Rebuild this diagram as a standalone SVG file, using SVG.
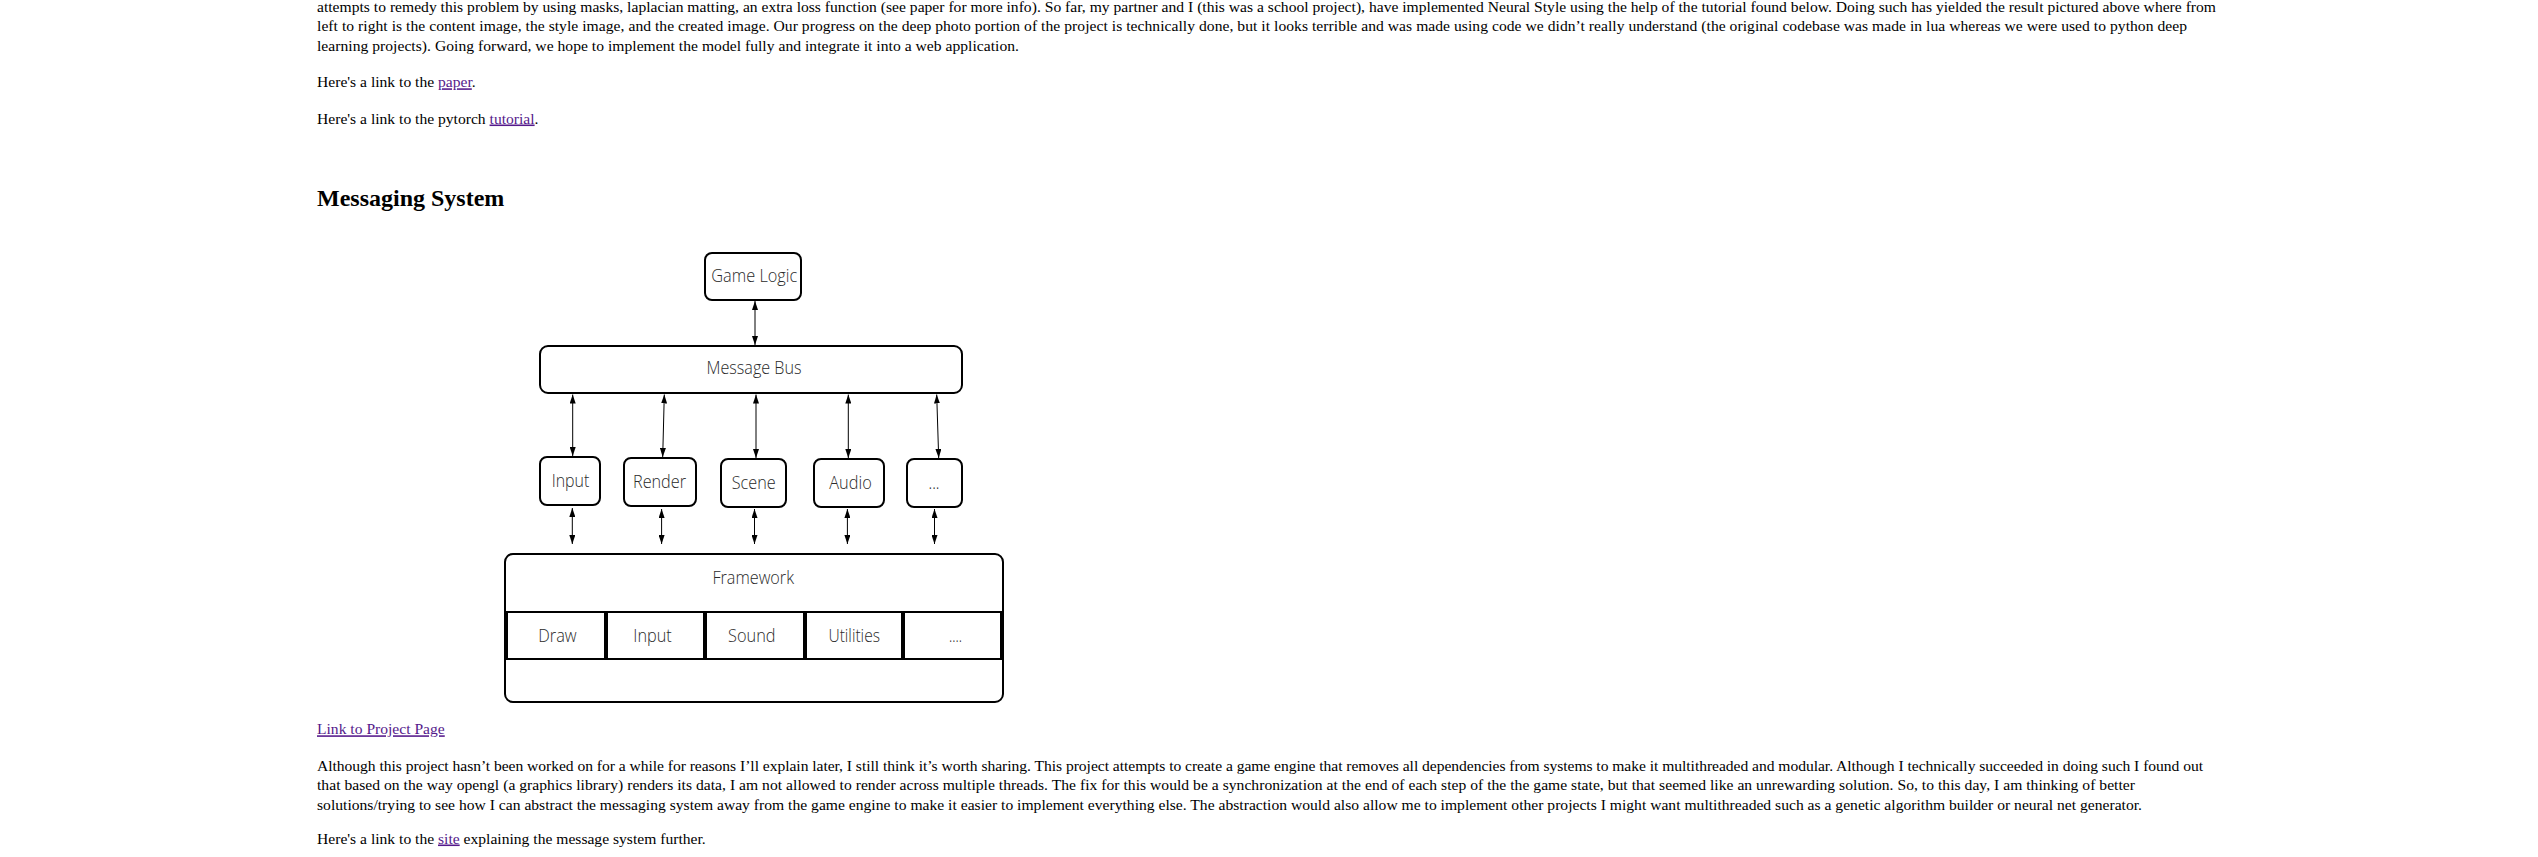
<svg xmlns="http://www.w3.org/2000/svg" width="2538" height="857" viewBox="0 0 2538 857">
<style>
.p{font-family:"Liberation Serif","Times New Roman",serif;font-size:15.6px;fill:#000}
.h{font-family:"Liberation Serif","Times New Roman",serif;font-size:24px;font-weight:bold;fill:#000}
.a{fill:#551a8b;text-decoration:underline}
.box{fill:#fff;stroke:#000;stroke-width:2}
.lbl{font-family:"Open Sans","Noto Sans",sans-serif;font-weight:300;font-size:19px;fill:#2a2a2a;text-anchor:middle}
.con{stroke:#000;stroke-width:1;fill:none;marker-start:url(#ah);marker-end:url(#ah)}
</style>
<defs>
<marker id="ah" markerUnits="userSpaceOnUse" markerWidth="9" markerHeight="6" refX="9" refY="3" orient="auto-start-reverse">
<path d="M0,0 L9,3 L0,6 z" fill="#000"/>
</marker>
</defs>
<rect width="2538" height="857" fill="#fff"/>
<g id="page-text">
<text class="p" x="317" y="12" textLength="1899">attempts to remedy this problem by using masks, laplacian matting, an extra loss function (see paper for more info). So far, my partner and I (this was a school project), have implemented Neural Style using the help of the tutorial found below. Doing such has yielded the result pictured above where from</text>
<text class="p" x="317" y="31.3" textLength="1870">left to right is the content image, the style image, and the created image. Our progress on the deep photo portion of the project is technically done, but it looks terrible and was made using code we didn’t really understand (the original codebase was made in lua whereas we were used to python deep</text>
<text class="p" x="317" y="50.6" textLength="702">learning projects). Going forward, we hope to implement the model fully and integrate it into a web application.</text>
<text class="p" x="317" y="87.3">Here's a link to the <tspan class="a">paper</tspan>.</text>
<text class="p" x="317" y="123.5">Here's a link to the pytorch <tspan class="a">tutorial</tspan>.</text>
<text class="h" x="317" y="206">Messaging System</text>
<text class="p" x="317" y="734.3"><tspan class="a">Link to Project Page</tspan></text>
<text class="p" x="317" y="771" textLength="1886">Although this project hasn’t been worked on for a while for reasons I’ll explain later, I still think it’s worth sharing. This project attempts to create a game engine that removes all dependencies from systems to make it multithreaded and modular. Although I technically succeeded in doing such I found out</text>
<text class="p" x="317" y="790.3" textLength="1818">that based on the way opengl (a graphics library) renders its data, I am not allowed to render across multiple threads. The fix for this would be a synchronization at the end of each step of the the game state, but that seemed like an unrewarding solution. So, to this day, I am thinking of better</text>
<text class="p" x="317" y="809.6" textLength="1825">solutions/trying to see how I can abstract the messaging system away from the game engine to make it easier to implement everything else. The abstraction would also allow me to implement other projects I might want multithreaded such as a genetic algorithm builder or neural net generator.</text>
<text class="p" x="317" y="843.5">Here's a link to the <tspan class="a">site</tspan> explaining the message system further.</text>
</g>
<g id="connectors">
<line class="con" x1="755" y1="301" x2="755" y2="345"/>
<line class="con" x1="572.7" y1="394.5" x2="572.7" y2="456"/>
<line class="con" x1="664.3" y1="394.5" x2="662.7" y2="457"/>
<line class="con" x1="756" y1="394.5" x2="756" y2="458"/>
<line class="con" x1="848.3" y1="394.5" x2="848.3" y2="458"/>
<line class="con" x1="936.7" y1="394.5" x2="938.7" y2="458"/>
<line class="con" x1="572.3" y1="508" x2="572.3" y2="544"/>
<line class="con" x1="661.6" y1="509" x2="661.6" y2="544"/>
<line class="con" x1="754.5" y1="509" x2="754.5" y2="544"/>
<line class="con" x1="847.4" y1="509" x2="847.4" y2="544"/>
<line class="con" x1="934.5" y1="509" x2="934.5" y2="544"/>
</g>
<g id="game-logic"><rect class="box" x="705" y="253" width="96" height="47" rx="7"/><text class="lbl" x="754.3" y="281.5" textLength="86" lengthAdjust="spacingAndGlyphs">Game Logic</text></g>
<g id="message-bus"><rect class="box" x="540" y="346" width="422" height="47" rx="8"/><text class="lbl" x="754" y="374" textLength="95" lengthAdjust="spacingAndGlyphs">Message Bus</text></g>
<g id="input"><rect class="box" x="540" y="457" width="60" height="48" rx="7"/><text class="lbl" x="570.5" y="487.3" textLength="37.6" lengthAdjust="spacingAndGlyphs">Input</text></g>
<g id="render"><rect class="box" x="624" y="458" width="72" height="48" rx="7"/><text class="lbl" x="659.5" y="488.3" textLength="53" lengthAdjust="spacingAndGlyphs">Render</text></g>
<g id="scene"><rect class="box" x="721" y="459" width="65" height="48" rx="7"/><text class="lbl" x="753.7" y="488.5" textLength="44" lengthAdjust="spacingAndGlyphs">Scene</text></g>
<g id="audio"><rect class="box" x="814" y="459" width="70" height="48" rx="7"/><text class="lbl" x="850.5" y="488.5" textLength="42.4" lengthAdjust="spacingAndGlyphs">Audio</text></g>
<g id="more"><rect class="box" x="907" y="459" width="55" height="48" rx="7"/><text class="lbl" x="934" y="489.3" textLength="11" lengthAdjust="spacingAndGlyphs">...</text></g>
<g id="framework">
<rect class="box" x="505" y="554" width="498" height="148" rx="8"/>
<text class="lbl" x="753.2" y="584" textLength="81.6" lengthAdjust="spacingAndGlyphs">Framework</text>
<g id="fw-draw"><rect class="box" x="507" y="612" width="98" height="47"/><text class="lbl" x="557.5" y="641.7" textLength="38.4" lengthAdjust="spacingAndGlyphs">Draw</text></g>
<g id="fw-input"><rect class="box" x="607" y="612" width="97" height="47"/><text class="lbl" x="652.5" y="641.7" textLength="38.4" lengthAdjust="spacingAndGlyphs">Input</text></g>
<g id="fw-sound"><rect class="box" x="706" y="612" width="98" height="47"/><text class="lbl" x="751.8" y="641.7" textLength="47.5" lengthAdjust="spacingAndGlyphs">Sound</text></g>
<g id="fw-utilities"><rect class="box" x="806" y="612" width="96" height="47"/><text class="lbl" x="854.2" y="641.7" textLength="51.5" lengthAdjust="spacingAndGlyphs">Utilities</text></g>
<g id="fw-more"><rect class="box" x="904" y="612" width="97" height="47"/><text class="lbl" x="955.5" y="641.7" textLength="13" lengthAdjust="spacingAndGlyphs">....</text></g>
</g>
</svg>
